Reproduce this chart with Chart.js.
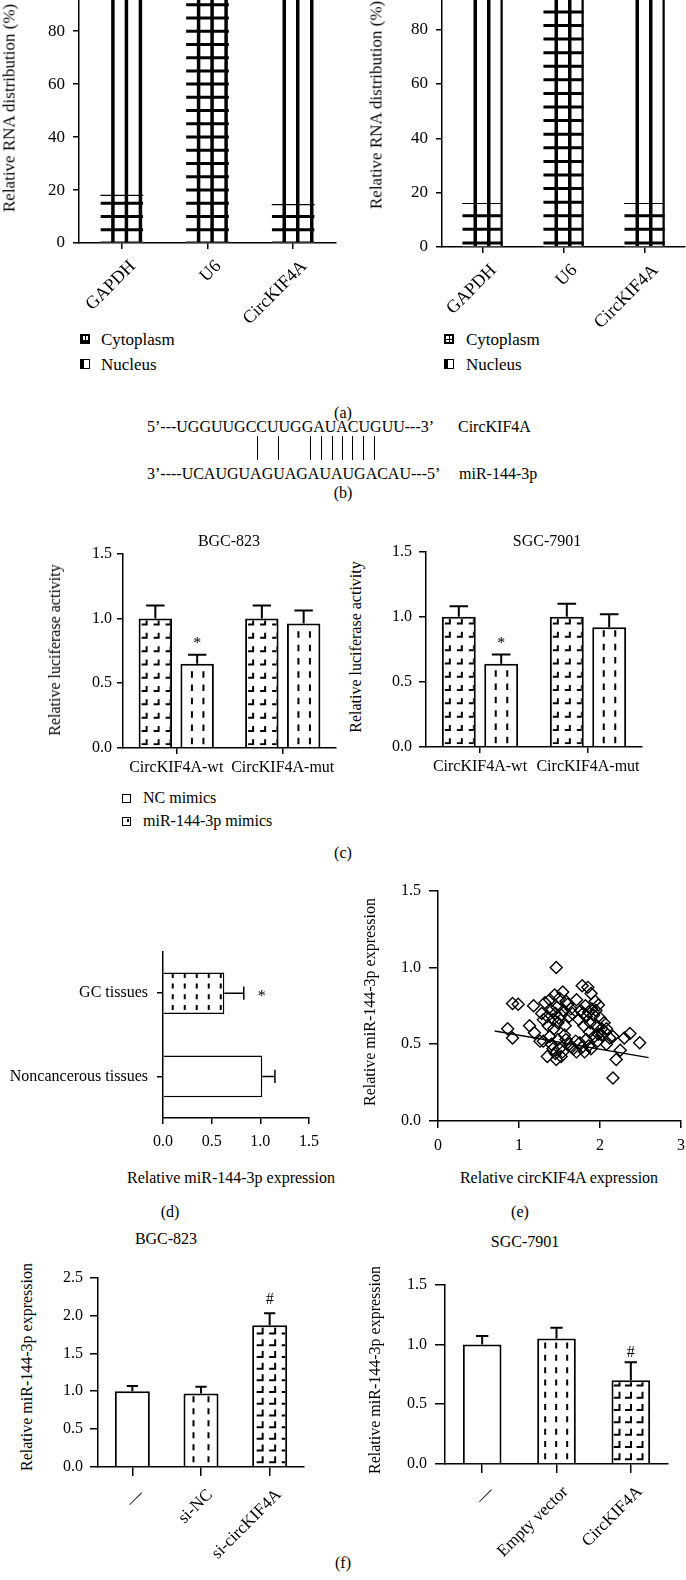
<!DOCTYPE html>
<html>
<head>
<meta charset="utf-8">
<script src="https://cdn.jsdelivr.net/npm/chart.js@4.4.1/dist/chart.umd.min.js"></script>
<style>
html, body { margin: 0; padding: 0; background: #fff; }
body { width: 686px; height: 1580px; position: relative; overflow: hidden;
       font-family: 'Liberation Serif', 'Times New Roman', serif; font-size: 16px; color: #000; }
canvas { position: absolute; }
.t { position: absolute; white-space: nowrap; line-height: 1; }
.c { transform: translate(-50%, -50%); }
.v { transform: translate(-50%, -50%) rotate(-90deg); }
.l { transform: translateY(-50%); }
.big { font-size: 17px; }
.ic { position: absolute; box-sizing: border-box; }
.pair { position: absolute; width: 1px; background: #000; top: 436px; height: 24px; }
</style>
</head>
<body>
<script>
// ---- data ----
// (a) nuclear / cytoplasmic fractionation
const aCats = ['GAPDH', 'U6', 'CircKIF4A'];
const aLeftCyto = [18, 97, 14.5];
const aLeftNuc = [82, 3, 85.5];
const aRightCyto = [16, 97, 16];
const aRightNuc = [84, 3, 84];

// (c) luciferase reporter
const cCats = ['CircKIF4A-wt', 'CircKIF4A-mut'];
const cLeftNC = [1.0, 1.0];
const cLeftNCErr = [0.10, 0.10];
const cLeftMiR = [0.65, 0.96];
const cLeftMiRErr = [0.07, 0.10];
const cLeftMarks = ['*', ''];
const cRightNC = [1.0, 1.0];
const cRightNCErr = [0.08, 0.10];
const cRightMiR = [0.64, 0.92];
const cRightMiRErr = [0.07, 0.10];
const cRightMarks = ['*', ''];

// (d) tissues
const dCats = ['GC tissues', 'Noncancerous tissues'];
const dVals = [0.63, 1.02];
const dErr = [0.20, 0.13];
const dMarks = ['*', ''];

// (e) correlation
const eCirc = [0.86, 0.92, 0.92, 0.99, 1.13, 1.18, 1.19, 1.46, 2.16, 2.20, 2.25, 2.30, 2.37, 2.49, 2.16, 2.08, 1.98,
  1.28, 1.32, 1.35, 1.38, 1.40, 1.42, 1.44, 1.45, 1.47, 1.48, 1.50, 1.52, 1.54, 1.55, 1.57, 1.60, 1.62, 1.64, 1.36, 1.43, 1.30, 1.49, 1.58, 1.66,
  1.71, 1.74, 1.76, 1.78, 1.80, 1.82, 1.83, 1.85, 1.86, 1.88, 1.89, 1.90, 1.92, 1.94, 1.96, 1.98, 2.00, 2.02, 2.05, 1.87, 1.79, 1.95, 2.08,
  1.26, 1.30, 1.35, 1.38, 1.40, 1.42, 1.45, 1.46, 1.48, 1.50, 1.52, 1.54, 1.56, 1.58, 1.62, 1.65, 1.67, 1.70, 1.71, 1.75, 1.78, 1.81, 1.83, 1.86, 1.89, 1.93, 1.97, 2.02, 2.06, 2.12];
const eMiR = [0.60, 0.54, 0.765, 0.76, 0.62, 0.75, 0.575, 1.00, 0.28, 0.40, 0.46, 0.54, 0.57, 0.51, 0.55, 0.50, 0.565,
  0.70, 0.77, 0.68, 0.79, 0.72, 0.66, 0.82, 0.70, 0.74, 0.64, 0.80, 0.69, 0.84, 0.72, 0.62, 0.76, 0.68, 0.73, 0.62, 0.60, 0.66, 0.67, 0.78, 0.70,
  0.79, 0.66, 0.72, 0.88, 0.62, 0.75, 0.68, 0.87, 0.71, 0.64, 0.83, 0.73, 0.69, 0.78, 0.62, 0.755, 0.67, 0.60, 0.64, 0.58, 0.70, 0.72, 0.60,
  0.52, 0.52, 0.42, 0.55, 0.50, 0.47, 0.44, 0.40, 0.53, 0.47, 0.42, 0.45, 0.56, 0.53, 0.50, 0.48, 0.47, 0.52, 0.45, 0.51, 0.48, 0.45, 0.53, 0.49, 0.47, 0.55, 0.52, 0.56, 0.58, 0.54];
const eFitX = [0.70, 2.60];
const eFitY = [0.586, 0.413];

// (f) knockdown / overexpression
const fLeftCats = ['—', 'si-NC', 'si-circKIF4A'];
const fLeftVals = [1.0, 0.97, 1.87];
const fLeftErr = [0.07, 0.09, 0.16];
const fLeftMarks = ['', '', '#'];
const fRightCats = ['—', 'Empty vector', 'CircKIF4A'];
const fRightVals = [1.0, 1.05, 0.70];
const fRightErr = [0.07, 0.09, 0.15];
const fRightMarks = ['', '', '#'];

// ---- chart defaults ----
const SERIF = "'Liberation Serif', 'Times New Roman', serif";
Chart.defaults.font.family = SERIF;
Chart.defaults.font.size = 16;
Chart.defaults.color = '#000';
Chart.defaults.animation = false;
Chart.defaults.plugins.legend.display = false;
Chart.defaults.plugins.tooltip.enabled = false;

// hatch fills drawn inside each bar element
function drawHatch(ctx, h, L, R, T, B, chart) {
  ctx.strokeStyle = '#000';
  if (h.type === 'vlines' || h.type === 'grid') {
    ctx.lineWidth = h.vw;
    h.vx.forEach(o => { ctx.beginPath(); ctx.moveTo(L + o, T); ctx.lineTo(L + o, B); ctx.stroke(); });
  }
  if (h.type === 'grid') {
    const ys = chart.scales.y;
    ctx.lineWidth = h.hw;
    for (let v = h.h0; v <= ys.max; v += h.step) {
      const py = ys.getPixelForValue(v);
      if (py < T - 2 || py > B + 2) continue;
      ctx.beginPath(); ctx.moveTo(L, py); ctx.lineTo(R, py); ctx.stroke();
    }
  }
  if (h.type === 'vdash') {
    ctx.lineWidth = h.lw;
    for (let x = L + h.x0; x < R - 1; x += h.sx) {
      for (let y = B - h.y0; y > T; y -= h.sy) {
        ctx.beginPath(); ctx.moveTo(x, y); ctx.lineTo(x, y - h.len); ctx.stroke();
      }
    }
  }
  if (h.type === 'L') {
    ctx.lineWidth = h.lw;
    for (let x = L + h.x0; x < R - 2; x += h.sx) {
      for (let y = B - h.y0; y > T + 1; y -= h.sy) {
        ctx.beginPath(); ctx.moveTo(x, y); ctx.lineTo(x + h.len, y); ctx.lineTo(x + h.len, y - h.len); ctx.stroke();
      }
    }
  }
}

const hatchPlugin = {
  id: 'hatch',
  afterDatasetDraw(chart, args) {
    const ds = chart.data.datasets[args.index];
    if (!ds.hatch) return;
    const ctx = chart.ctx;
    const horiz = chart.options.indexAxis === 'y';
    const bw = ds.borderWidth || 0;
    args.meta.data.forEach((el, i) => {
      const h = Array.isArray(ds.hatch) ? ds.hatch[i] : ds.hatch;
      if (!h) return;
      const p = el.getProps(['x', 'y', 'base', 'width', 'height'], true);
      let L, R, T, B;
      if (horiz) {
        L = Math.min(p.base, p.x); R = Math.max(p.base, p.x);
        T = p.y - p.height / 2; B = p.y + p.height / 2;
      } else {
        L = p.x - p.width / 2; R = p.x + p.width / 2;
        T = Math.min(p.y, p.base); B = Math.max(p.y, p.base);
      }
      if (R - L < 1 || B - T < 1) return;
      ctx.save();
      ctx.beginPath();
      ctx.rect(L + bw, T + bw, R - L - 2 * bw, B - T - 2 * bw);
      ctx.clip();
      drawHatch(ctx, h, L, R, T, B, chart);
      ctx.restore();
      if (h.topLine) {
        ctx.save();
        ctx.strokeStyle = '#000'; ctx.lineWidth = 1.2;
        ctx.beginPath(); ctx.moveTo(L, T); ctx.lineTo(R, T); ctx.stroke();
        ctx.restore();
      }
    });
  }
};

// one-sided error bars + significance marks
const errPlugin = {
  id: 'errbars',
  afterDatasetsDraw(chart) {
    const ctx = chart.ctx;
    const horiz = chart.options.indexAxis === 'y';
    const vScale = horiz ? chart.scales.x : chart.scales.y;
    chart.data.datasets.forEach((ds, di) => {
      if (!ds.err) return;
      const meta = chart.getDatasetMeta(di);
      meta.data.forEach((el, i) => {
        const v = ds.data[i], e = ds.err[i];
        const p0 = vScale.getPixelForValue(v), p1 = vScale.getPixelForValue(v + e);
        const cap = (horiz ? el.height : el.width) * ds.capRatio;
        ctx.save();
        ctx.strokeStyle = '#000';
        ctx.lineWidth = ds.errWidth || 1.5;
        ctx.beginPath();
        if (horiz) {
          ctx.moveTo(p0, el.y); ctx.lineTo(p1, el.y);
          ctx.moveTo(p1, el.y - cap / 2); ctx.lineTo(p1, el.y + cap / 2);
        } else {
          ctx.moveTo(el.x, p0); ctx.lineTo(el.x, p1);
          ctx.moveTo(el.x - cap / 2, p1); ctx.lineTo(el.x + cap / 2, p1);
        }
        ctx.stroke();
        const mk = ds.marks && ds.marks[i];
        if (mk) {
          ctx.fillStyle = '#000';
          ctx.font = '16px ' + SERIF;
          ctx.textAlign = 'center';
          ctx.textBaseline = 'middle';
          if (horiz) ctx.fillText(mk, p1 + ds.markGap, el.y + 4);
          else ctx.fillText(mk, el.x, p1 - ds.markGap);
        }
        ctx.restore();
      });
    });
  }
};

// ---- layout helpers ----
function mount(plot, m) {
  const c = document.createElement('canvas');
  const w = plot.r - plot.l + m.l + m.r, h = plot.b - plot.t + m.t + m.b;
  c.width = w; c.height = h;
  c.style.width = w + 'px'; c.style.height = h + 'px';
  c.style.left = (plot.l - m.l) + 'px'; c.style.top = (plot.t - m.t) + 'px';
  document.body.appendChild(c);
  return c;
}
function lin(min, max, step, dec, fitW, fitH, tl, pad, fs) {
  return {
    type: 'linear', min: min, max: max,
    ticks: { stepSize: step, padding: pad, autoSkip: false, maxRotation: 0, font: { size: fs || 16 },
             callback: v => Number(v).toFixed(dec) },
    grid: { drawOnChartArea: false, drawTicks: true, tickLength: tl, color: '#000', lineWidth: 1.5 },
    border: { display: true, color: '#000', width: 1.5 },
    afterFit: s => { if (fitW != null) s.width = fitW; if (fitH != null) s.height = fitH; }
  };
}
function cat(fitW, fitH, tl, pad, rot, fs, lo) {
  return {
    type: 'category', offset: true,
    ticks: { padding: pad, autoSkip: false, maxRotation: rot, minRotation: rot,
             font: { size: fs || 16 }, labelOffset: lo || 0 },
    grid: { offset: false, drawOnChartArea: false, drawTicks: true, tickLength: tl, color: '#000', lineWidth: 1.5 },
    border: { display: true, color: '#000', width: 1.5 },
    afterFit: s => { if (fitW != null) s.width = fitW; if (fitH != null) s.height = fitH; }
  };
}
function txt(s, x, y, cls) {
  const d = document.createElement('div');
  d.className = 't ' + cls;
  d.textContent = s;
  d.style.left = x + 'px'; d.style.top = y + 'px';
  document.body.appendChild(d);
  return d;
}
function box(x, y, w, h, css) {
  const d = document.createElement('div');
  d.className = 'ic';
  d.style.cssText = 'left:' + x + 'px;top:' + y + 'px;width:' + w + 'px;height:' + h + 'px;' + (css || '');
  document.body.appendChild(d);
  return d;
}
const plugins = [hatchPlugin, errPlugin];

// ---- (a) ----
function fractionChart(plot, m, cyto, nuc, vx, h0) {
  new Chart(mount(plot, m), {
    type: 'bar',
    data: {
      labels: aCats,
      datasets: [
        { label: 'Cytoplasm', data: cyto, backgroundColor: '#fff', borderWidth: 0,
          hatch: { type: 'grid', vx: vx, vw: 3.5, hw: 3, h0: h0, step: 5, topLine: true } },
        { label: 'Nucleus', data: nuc, backgroundColor: '#fff', borderWidth: 0,
          hatch: { type: 'vlines', vx: vx, vw: 3.5 } }
      ]
    },
    options: {
      responsive: false,
      layout: { padding: { top: m.t, right: m.r, left: 0, bottom: 0 } },
      datasets: { bar: { barPercentage: 0.5, categoryPercentage: 1 } },
      scales: {
        x: Object.assign(cat(null, m.b, 6, 7, 45, 18, 11), { stacked: true }),
        y: Object.assign(lin(0, 100, 20, 0, m.l, null, 6, 8, 17), { stacked: true })
      }
    },
    plugins: plugins
  });
}
fractionChart({ l: 79, r: 336, t: -30, b: 243 }, { l: 79, t: 10, r: 8, b: 80 }, aLeftCyto, aLeftNuc, [12.5, 26, 40], 0);
fractionChart({ l: 442, r: 685, t: -33, b: 247 }, { l: 80, t: 10, r: 20, b: 80 }, aRightCyto, aRightNuc, [13, 26.5, 40], 1.5);

txt('Relative RNA distribution (%)', 9, 108, 'v big');
txt('Relative RNA distribution (%)', 376, 105, 'v big');
box(80, 334, 10, 10, 'background:#000');
box(83, 336, 1.5, 4, 'background:#fff');
box(86, 336, 1.5, 4, 'background:#fff');
box(80, 359, 10, 10, 'border:1.5px solid #000;border-left:4px solid #000;background:#fff');
txt('Cytoplasm', 101, 339, 'l big');
txt('Nucleus', 101, 364, 'l big');
box(444, 334, 10, 10, 'background:#000');
box(446, 336, 2.5, 2.5, 'background:#fff');
box(449.5, 336, 2.5, 2.5, 'background:#fff');
box(446, 339.5, 2.5, 2.5, 'background:#fff');
box(449.5, 339.5, 2.5, 2.5, 'background:#fff');
box(444, 359, 10, 10, 'border:1.5px solid #000;border-left:4px solid #000;background:#fff');
txt('Cytoplasm', 466, 339, 'l big');
txt('Nucleus', 466, 364, 'l big');
txt('(a)', 343, 413, 'c');

// ---- (b) ----
txt('5’---UGGUUGCCUUGGAUACUGUU---3’', 147, 427, 'l');
txt('CircKIF4A', 458, 427, 'l');
txt('3’----UCAUGUAGUAGAUAUGACAU---5’', 147, 474, 'l');
txt('miR-144-3p', 459, 474, 'l');
[257, 278, 310, 321, 332, 342, 352, 363, 374].forEach(x => {
  const d = document.createElement('div');
  d.className = 'pair'; d.style.left = x + 'px';
  document.body.appendChild(d);
});
txt('(b)', 343, 493, 'c');

// ---- (c) ----
const hatchL_c = { type: 'L', x0: 3, sx: 12, len: 5, y0: 3, sy: 13.3, lw: 2 };
const hatchV_c = { type: 'vdash', x0: 11.5, sx: 11.5, len: 6.5, y0: 3, sy: 13.3, lw: 2 };
function lucChart(plot, m, nc, ncErr, mir, mirErr, marks, tl, pad) {
  new Chart(mount(plot, m), {
    type: 'bar',
    data: {
      labels: cCats,
      datasets: [
        { label: 'NC mimics', data: nc, err: ncErr, capRatio: 0.55, errWidth: 2,
          backgroundColor: '#fff', borderColor: '#000', borderWidth: 2, hatch: hatchL_c },
        { label: 'miR-144-3p mimics', data: mir, err: mirErr, marks: marks, markGap: 11, capRatio: 0.55, errWidth: 2,
          backgroundColor: '#fff', borderColor: '#000', borderWidth: 2, hatch: hatchV_c }
      ]
    },
    options: {
      responsive: false,
      layout: { padding: { top: m.t, right: m.r, left: 0, bottom: 0 } },
      datasets: { bar: { barPercentage: 0.8, categoryPercentage: 0.785 } },
      scales: {
        x: cat(null, m.b, 6, 4, 0),
        y: lin(0, 1.5, 0.5, 1, m.l, null, tl, pad)
      }
    },
    plugins: plugins
  });
}
lucChart({ l: 123, r: 336, t: 551, b: 748 }, { l: 70, t: 12, r: 6, b: 32 }, cLeftNC, cLeftNCErr, cLeftMiR, cLeftMiRErr, cLeftMarks, 6, 5);
lucChart({ l: 426, r: 642, t: 547, b: 747 }, { l: 60, t: 12, r: 6, b: 32 }, cRightNC, cRightNCErr, cRightMiR, cRightMiRErr, cRightMarks, 7, 7);
txt('BGC-823', 229, 541, 'c');
txt('SGC-7901', 547, 541, 'c');
txt('Relative luciferase activity', 55, 650, 'v');
txt('Relative luciferase activity', 356, 647, 'v');
box(122, 794, 9, 9, 'border:1.5px solid #000;background:#fff');
box(122, 817, 9, 9, 'border:1.5px solid #000;background:#fff');
box(127, 819, 1.5, 3, 'background:#000');
txt('NC mimics', 143, 798, 'l');
txt('miR-144-3p mimics', 143, 821, 'l');
txt('(c)', 343, 853, 'c');

// ---- (d) ----
new Chart(mount({ l: 163, r: 309, t: 943, b: 1118 }, { l: 163, t: 10, r: 20, b: 40 }), {
  type: 'bar',
  data: {
    labels: dCats,
    datasets: [{
      label: 'Relative miR-144-3p expression', data: dVals, err: dErr, marks: dMarks, markGap: 18,
      capRatio: 0.32, errWidth: 1.5,
      backgroundColor: '#fff', borderColor: '#000', borderWidth: 1.5,
      hatch: [{ type: 'vdash', x0: 9, sx: 12, len: 5, y0: 4, sy: 10.7, lw: 2 }, null]
    }]
  },
  options: {
    responsive: false,
    indexAxis: 'y',
    layout: { padding: { top: 10, right: 20, left: 0, bottom: 0 } },
    datasets: { bar: { barPercentage: 0.5, categoryPercentage: 1 } },
    scales: {
      x: lin(0, 1.5, 0.5, 1, null, 40, 6, 8),
      y: cat(163, null, 6, 9, 0)
    }
  },
  plugins: plugins
});
txt('Relative miR-144-3p expression', 231, 1178, 'c');
txt('(d)', 170, 1212, 'c');

// ---- (e) ----
new Chart(mount({ l: 438, r: 681, t: 883, b: 1121 }, { l: 60, t: 10, r: 20, b: 35 }), {
  type: 'scatter',
  data: {
    datasets: [
      { label: 'samples', data: eCirc.map((x, i) => ({ x: x, y: eMiR[i] })),
        pointStyle: 'rectRot', pointRadius: 6, borderWidth: 1.4, borderColor: '#000',
        backgroundColor: 'rgba(0,0,0,0)' },
      { type: 'line', label: 'fit', data: eFitX.map((x, i) => ({ x: x, y: eFitY[i] })),
        borderColor: '#000', borderWidth: 1.3, pointRadius: 0, showLine: true, fill: false }
    ]
  },
  options: {
    responsive: false,
    layout: { padding: { top: 10, right: 20, left: 0, bottom: 0 } },
    scales: {
      x: lin(0, 3, 1, 0, null, 35, 7, 8),
      y: lin(0, 1.5, 0.5, 1, 60, null, 9, 8)
    }
  },
  plugins: plugins
});
txt('Relative miR-144-3p expression', 370, 1002, 'v');
txt('Relative circKIF4A expression', 559, 1178, 'c');
txt('(e)', 520, 1212, 'c');

// ---- (f) ----
function exprChart(plot, m, labels, vals, err, marks, hatches, yMax, tl, pad, bp, gap) {
  new Chart(mount(plot, m), {
    type: 'bar',
    data: {
      labels: labels,
      datasets: [{
        label: 'Relative miR-144-3p expression', data: vals, err: err, marks: marks, markGap: gap,
        capRatio: 0.32, errWidth: 2,
        backgroundColor: '#fff', borderColor: '#000', borderWidth: 2, hatch: hatches
      }]
    },
    options: {
      responsive: false,
      layout: { padding: { top: m.t, right: m.r, left: 0, bottom: 0 } },
      datasets: { bar: { barPercentage: bp, categoryPercentage: 1 } },
      scales: {
        x: cat(null, m.b, 9, 9, 45, 17, 9),
        y: lin(0, yMax, 0.5, 1, m.l, null, tl, pad)
      }
    },
    plugins: plugins
  });
}
exprChart({ l: 98, r: 304, t: 1271, b: 1467 }, { l: 60, t: 10, r: 12, b: 100 }, fLeftCats, fLeftVals, fLeftErr, fLeftMarks,
  [null, { type: 'vdash', x0: 10, sx: 15, len: 6, y0: 4, sy: 12, lw: 2 },
   { type: 'L', x0: 4.5, sx: 12.5, len: 6, y0: 4, sy: 11.7, lw: 2 }], 2.5, 8, 7, 0.51, 13);
exprChart({ l: 445, r: 668, t: 1277, b: 1464 }, { l: 60, t: 10, r: 12, b: 100 }, fRightCats, fRightVals, fRightErr, fRightMarks,
  [null, { type: 'vdash', x0: 8, sx: 11, len: 6, y0: 4, sy: 12.3, lw: 2 },
   { type: 'L', x0: 2, sx: 11.5, len: 6, y0: 4, sy: 12.3, lw: 2 }], 1.5, 10, 8, 0.52, 10);
txt('BGC-823', 166, 1239, 'c');
txt('SGC-7901', 525, 1242, 'c');
txt('Relative miR-144-3p expression', 27, 1367, 'v');
txt('Relative miR-144-3p expression', 375, 1370, 'v');
txt('(f)', 343, 1563, 'c');
</script>
</body>
</html>
